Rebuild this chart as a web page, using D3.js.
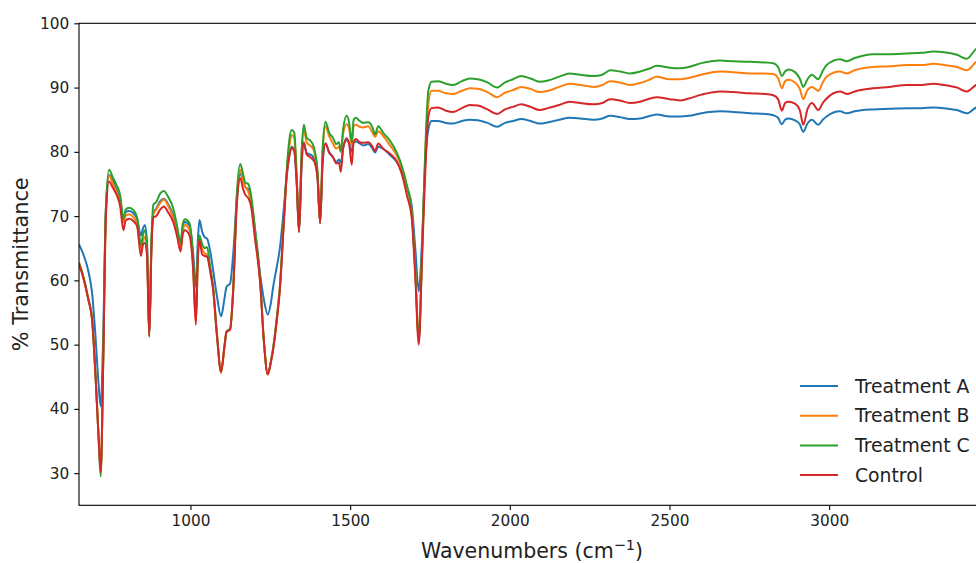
<!DOCTYPE html>
<html>
<head>
<meta charset="utf-8">
<script src="https://cdn.jsdelivr.net/npm/d3@7"></script>
<style>
  html, body { margin: 0; padding: 0; background: #fff; }
  svg { display: block; font-family: "DejaVu Sans", sans-serif; }
</style>
</head>
<body>
<svg id="chart" width="976" height="563"></svg>
<script>
// wavenumbers (cm-1) and % transmittance
const wavenumbers = [651, 665, 680, 692, 703, 712, 719, 727, 735, 745, 757, 769, 780, 790, 797, 808, 822, 833, 845, 851, 857, 864, 871, 878, 884, 893, 905, 917, 930, 946, 958, 969, 976, 983, 997, 1008, 1017, 1023, 1028, 1037, 1045, 1052, 1062, 1071, 1083, 1096, 1106, 1113, 1124, 1134, 1145, 1156, 1165, 1172, 1181, 1190, 1202, 1218, 1230, 1242, 1252, 1259, 1270, 1280, 1292, 1301, 1310, 1317, 1325, 1333, 1340, 1348, 1355, 1364, 1374, 1383, 1390, 1398, 1406, 1414, 1423, 1434, 1446, 1457, 1465, 1471, 1478, 1489, 1497, 1505, 1511, 1518, 1530, 1541, 1557, 1570, 1578, 1588, 1603, 1625, 1645, 1662, 1678, 1693, 1704, 1715, 1725, 1735, 1745, 1755, 1775, 1800, 1823, 1850, 1875, 1900, 1930, 1960, 1985, 2010, 2036, 2065, 2093, 2120, 2155, 2187, 2220, 2262, 2290, 2314, 2345, 2376, 2408, 2440, 2460, 2500, 2533, 2560, 2600, 2658, 2700, 2752, 2800, 2825, 2840, 2852, 2862, 2873, 2893, 2908, 2919, 2932, 2946, 2966, 2980, 2992, 3034, 3055, 3080, 3138, 3190, 3243, 3290, 3327, 3360, 3400, 3431, 3460, 3488];

const treatmentA = [65.6, 64.0, 61.5, 58.0, 51.0, 44.0, 40.4, 52.0, 71.0, 76.4, 75.5, 74.0, 72.5, 69.5, 70.6, 70.8, 70.4, 69.5, 67.0, 68.0, 68.6, 66.0, 51.5, 66.0, 70.5, 71.2, 72.3, 72.7, 71.9, 70.1, 68.0, 65.6, 68.3, 69.1, 68.5, 64.5, 59.0, 66.0, 69.4, 67.5, 66.7, 66.5, 64.5, 61.6, 57.5, 54.4, 57.0, 59.0, 59.5, 64.2, 72.5, 76.6, 75.5, 74.5, 74.2, 72.5, 68.0, 61.0, 57.0, 54.7, 56.5, 59.0, 62.0, 65.0, 71.0, 76.0, 79.5, 80.8, 80.3, 75.0, 67.6, 78.0, 81.2, 79.8, 79.6, 79.3, 78.5, 76.0, 69.0, 78.5, 81.3, 80.0, 79.2, 78.4, 78.8, 78.3, 80.5, 81.8, 81.3, 80.0, 81.5, 81.6, 81.3, 81.0, 81.2, 80.5, 79.9, 80.8, 80.5, 79.5, 78.5, 77.0, 74.5, 71.6, 65.0, 58.3, 66.0, 78.0, 83.5, 84.8, 84.8, 84.5, 84.4, 84.8, 85.0, 84.9, 84.5, 83.9, 84.5, 84.8, 85.1, 84.8, 84.4, 84.6, 85.0, 85.3, 85.2, 85.0, 85.2, 85.6, 85.4, 85.1, 85.2, 85.6, 85.8, 85.5, 85.5, 85.6, 86.0, 86.3, 86.2, 86.0, 85.9, 85.7, 85.3, 84.3, 85.0, 85.2, 84.9, 84.3, 83.1, 84.4, 85.0, 84.2, 85.0, 85.5, 86.3, 86.0, 86.3, 86.6, 86.7, 86.8, 86.8, 86.9, 86.8, 86.5, 86.0, 86.9, 87.3];

const treatmentB = [62.8, 60.5, 57.2, 54.0, 45.0, 36.0, 30.5, 48.0, 70.5, 76.3, 75.0, 73.7, 72.0, 69.0, 70.0, 70.3, 69.8, 68.8, 65.0, 66.0, 66.8, 64.5, 51.4, 65.5, 70.3, 71.0, 72.0, 72.6, 71.6, 69.7, 67.3, 65.0, 67.6, 68.6, 67.8, 62.5, 53.5, 63.5, 66.8, 64.8, 64.2, 64.0, 61.8, 58.8, 51.5, 45.6, 49.5, 52.0, 52.4, 58.7, 72.5, 77.2, 75.5, 74.5, 73.8, 71.8, 67.2, 60.0, 50.5, 45.3, 47.3, 49.5, 54.0, 59.0, 69.0, 76.3, 81.0, 82.6, 82.2, 75.5, 67.6, 79.5, 83.3, 81.5, 81.0, 80.6, 79.5, 76.5, 68.9, 80.0, 84.0, 82.5, 81.3, 80.5, 80.8, 80.0, 82.8, 84.3, 83.6, 81.0, 84.0, 84.2, 83.9, 83.8, 84.0, 83.0, 82.3, 83.2, 82.5, 81.0, 79.5, 77.5, 74.6, 70.5, 61.5, 51.0, 64.0, 79.0, 87.5, 89.5, 89.5, 89.1, 89.0, 89.5, 89.9, 89.8, 89.3, 88.5, 89.2, 89.6, 90.1, 89.8, 89.3, 89.5, 90.1, 90.6, 90.4, 90.1, 90.4, 91.0, 90.8, 90.4, 90.7, 91.3, 91.7, 91.3, 91.3, 91.5, 92.0, 92.5, 92.4, 92.2, 92.2, 92.1, 91.5, 89.9, 91.0, 91.2, 90.8, 89.8, 88.2, 89.6, 90.1, 89.5, 90.8, 91.7, 92.5, 92.2, 92.7, 93.2, 93.3, 93.5, 93.5, 93.7, 93.5, 93.2, 92.7, 94.0, 94.5];

const treatmentC = [62.7, 60.5, 57.2, 54.0, 45.0, 35.8, 29.5, 48.0, 71.0, 77.2, 76.0, 74.8, 73.2, 69.5, 71.0, 71.3, 70.9, 69.8, 65.5, 67.0, 67.8, 65.0, 51.4, 66.5, 71.8, 72.2, 73.5, 73.9, 73.0, 71.2, 68.5, 65.8, 68.8, 69.5, 68.9, 63.5, 54.0, 64.0, 67.0, 65.6, 65.0, 65.2, 62.0, 59.0, 51.7, 45.8, 49.5, 52.0, 52.5, 58.8, 73.2, 78.1, 76.5, 75.2, 75.0, 73.2, 68.0, 60.3, 50.5, 45.5, 47.5, 49.5, 54.0, 59.0, 69.0, 76.8, 82.0, 83.4, 83.0, 76.0, 67.6, 80.0, 84.2, 82.2, 81.8, 81.2, 80.0, 77.0, 68.9, 80.5, 84.7, 83.0, 82.2, 81.2, 81.5, 80.0, 83.5, 85.6, 84.5, 81.5, 85.0, 85.3, 84.8, 84.5, 84.6, 83.8, 82.7, 84.0, 83.0, 81.7, 80.0, 77.8, 74.7, 70.5, 61.5, 50.8, 64.0, 80.0, 89.5, 90.9, 91.0, 90.6, 90.4, 91.0, 91.4, 91.3, 90.8, 90.0, 90.8, 91.3, 91.8, 91.4, 90.9, 91.1, 91.7, 92.2, 92.0, 91.8, 92.0, 92.7, 92.5, 92.2, 92.5, 93.0, 93.4, 93.1, 93.0, 93.2, 93.8, 94.2, 94.1, 94.0, 93.9, 93.8, 93.2, 91.8, 92.5, 92.8, 92.4, 91.4, 90.1, 91.3, 92.0, 91.3, 92.6, 93.5, 94.4, 94.1, 94.6, 95.2, 95.2, 95.3, 95.4, 95.6, 95.5, 95.1, 94.5, 96.0, 96.5];

const control = [62.5, 60.3, 57.0, 53.8, 44.8, 36.0, 30.2, 47.5, 69.5, 75.4, 74.4, 73.3, 71.5, 67.8, 69.3, 69.6, 69.2, 68.4, 63.8, 65.5, 65.8, 63.8, 51.2, 65.0, 69.8, 70.0, 71.0, 71.5, 70.6, 69.1, 66.9, 64.5, 67.2, 67.8, 67.0, 62.0, 53.1, 63.0, 66.3, 64.0, 63.8, 63.7, 61.3, 58.5, 51.3, 45.8, 49.5, 52.0, 52.3, 58.5, 71.5, 75.9, 74.2, 73.3, 72.8, 71.5, 66.5, 59.8, 50.5, 45.4, 47.3, 49.2, 53.5, 58.5, 68.5, 76.0, 79.5, 80.6, 80.1, 74.8, 67.5, 78.0, 81.5, 79.6, 79.2, 78.8, 78.2, 75.8, 68.9, 78.5, 81.3, 79.9, 79.2, 78.2, 78.3, 76.9, 80.5, 82.1, 81.2, 78.0, 81.5, 82.0, 81.5, 81.4, 81.5, 80.8, 80.1, 81.3, 80.5, 79.7, 78.6, 76.5, 73.2, 69.6, 60.5, 50.0, 63.0, 76.5, 85.5, 86.8, 86.9, 86.4, 86.2, 86.8, 87.3, 87.2, 86.6, 85.9, 86.6, 87.0, 87.4, 87.0, 86.5, 86.8, 87.3, 87.8, 87.6, 87.4, 87.6, 88.2, 88.0, 87.6, 87.8, 88.3, 88.5, 88.2, 88.0, 88.3, 88.9, 89.4, 89.3, 89.1, 89.0, 88.8, 88.2, 86.4, 87.6, 87.8, 87.5, 86.5, 84.2, 86.6, 87.6, 86.5, 87.6, 88.3, 89.4, 89.0, 89.4, 89.9, 90.1, 90.4, 90.4, 90.6, 90.4, 90.0, 89.4, 90.4, 90.8];

const seriesNames = ['Treatment A', 'Treatment B', 'Treatment C', 'Control'];
const seriesValues = [treatmentA, treatmentB, treatmentC, control];
const seriesColors = ['#1f77b4', '#ff7f0e', '#2ca02c', '#d62728'];

const xTicks = [1000, 1500, 2000, 2500, 3000];
const yTicks = [30, 40, 50, 60, 70, 80, 90, 100];

const margin = {l: 79, t: 23.3, r: 985, b: 505.3};

const svg = d3.select('#chart');

const xS = d3.scaleLinear().domain([651, 3488]).range([margin.l, margin.r]);
const yS = d3.scaleLinear().domain([25, 100]).range([margin.b, margin.t]);

svg.append('defs').append('clipPath').attr('id', 'clip')
  .append('rect')
  .attr('x', margin.l).attr('y', margin.t)
  .attr('width', margin.r - margin.l).attr('height', margin.b - margin.t);

const line = d3.line()
  .x(d => xS(d[0]))
  .y(d => yS(d[1]))
  .curve(d3.curveMonotoneX);

const l_main = svg.append('g').attr('clip-path', 'url(#clip)');

seriesValues.forEach((vals, i) => {
  const pts = wavenumbers.map((w, j) => [w, vals[j]]);
  l_main.append('path')
    .datum(pts)
    .attr('d', line)
    .attr('fill', 'none')
    .attr('stroke', seriesColors[i])
    .attr('stroke-width', 2)
    .attr('stroke-linejoin', 'round');
});

// axes
const xAxis = d3.axisBottom(xS).tickValues(xTicks).tickSize(4.7).tickPadding(5).tickFormat(d3.format('d'));
const yAxis = d3.axisLeft(yS).tickValues(yTicks).tickSize(4.7).tickPadding(5).tickFormat(d3.format('d'));

const gx = svg.append('g').attr('transform', `translate(0,${margin.b})`).call(xAxis);
const gy = svg.append('g').attr('transform', `translate(${margin.l},0)`).call(yAxis);

[gx, gy].forEach(g => {
  g.select('.domain').remove();
  g.selectAll('line').attr('stroke', '#000').attr('stroke-width', 1.1);
  g.selectAll('text').attr('fill', '#222').style('font-size', '15.3px').style('font-family', '"DejaVu Sans", sans-serif');
});

// spines
svg.append('rect')
  .attr('x', margin.l).attr('y', margin.t)
  .attr('width', margin.r - margin.l).attr('height', margin.b - margin.t)
  .attr('fill', 'none').attr('stroke', '#000').attr('stroke-width', 1.1);

// axis labels
const xlab = svg.append('text')
  .attr('x', (margin.l + margin.r) / 2).attr('y', 557.5)
  .attr('text-anchor', 'middle')
  .attr('fill', '#222')
  .style('font-size', '20.5px');
xlab.append('tspan').text('Wavenumbers (cm');
xlab.append('tspan').text('\u22121').attr('dy', -8).style('font-size', '14.5px');
xlab.append('tspan').text(')').attr('dy', 8);

svg.append('text')
  .attr('transform', `translate(28,${(margin.t + margin.b) / 2}) rotate(-90)`)
  .attr('text-anchor', 'middle')
  .attr('fill', '#222')
  .style('font-size', '20.8px')
  .text('% Transmittance');

// legend
const legend = svg.append('g').attr('transform', 'translate(800,386)');
seriesNames.forEach((name, i) => {
  const row = legend.append('g').attr('transform', `translate(0,${i * 29.7})`);
  row.append('line')
    .attr('x1', 0).attr('x2', 38).attr('y1', 0).attr('y2', 0)
    .attr('stroke', seriesColors[i]).attr('stroke-width', 2);
  row.append('text')
    .attr('x', 55).attr('y', 0).attr('dy', '0.35em')
    .attr('fill', '#222')
    .style('font-size', '18.8px')
    .text(name);
});
</script>
</body>
</html>
